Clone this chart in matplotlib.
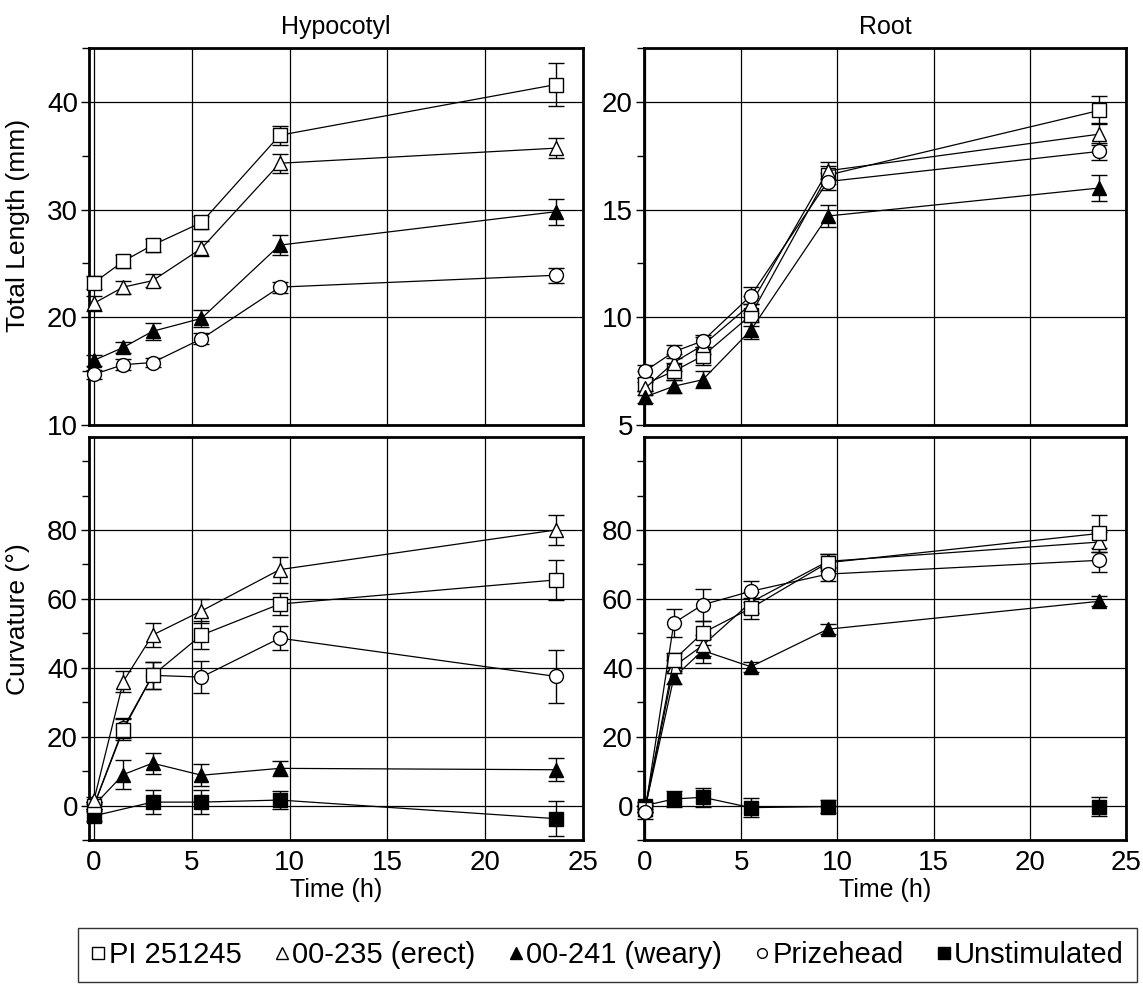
"""Hypocotyl and root gravitropic response: total length and curvature over time."""

import matplotlib

matplotlib.use("Agg")
import matplotlib.pyplot as plt
from matplotlib.lines import Line2D
from matplotlib.ticker import FixedLocator, MultipleLocator

# sampling times (h)
TIME = [0, 1.5, 3, 5.5, 9.5, 23.6]
TIME_UNSTIM_HYP = [0, 3, 5.5, 9.5, 23.6]

SERIES = ["PI 251245", "00-235 (erect)", "00-241 (weary)", "Prizehead", "Unstimulated"]

# hypocotyl total length (mm)
HYP_LEN_PI = [23.2, 25.2, 26.7, 28.8, 36.9, 41.6]
HYP_LEN_PI_ERR = [0.6, 0.6, 0.6, 0.6, 0.9, 2.0]
HYP_LEN_ERECT = [21.3, 22.8, 23.4, 26.4, 34.3, 35.7]
HYP_LEN_ERECT_ERR = [0.7, 0.6, 0.6, 0.7, 0.9, 0.9]
HYP_LEN_WEARY = [16.0, 17.2, 18.7, 19.9, 26.7, 29.8]
HYP_LEN_WEARY_ERR = [0.5, 0.5, 0.8, 0.8, 0.9, 1.2]
HYP_LEN_PRIZE = [14.7, 15.6, 15.8, 18.0, 22.8, 23.9]
HYP_LEN_PRIZE_ERR = [0.4, 0.5, 0.4, 0.5, 0.5, 0.7]

# hypocotyl curvature (degrees)
HYP_CURV_PI = [0.0, 22.0, 37.8, 49.5, 58.5, 65.5]
HYP_CURV_PI_ERR = [1.0, 3.0, 4.0, 4.0, 3.2, 5.7]
HYP_CURV_ERECT = [1.5, 36.0, 49.5, 56.5, 68.5, 80.0]
HYP_CURV_ERECT_ERR = [1.0, 3.0, 3.5, 3.5, 3.8, 4.4]
HYP_CURV_WEARY = [0.0, 9.0, 12.3, 8.8, 10.8, 10.4]
HYP_CURV_WEARY_ERR = [1.0, 4.3, 3.0, 3.2, 2.2, 3.4]
HYP_CURV_PRIZE = [0.0, 22.5, 37.8, 37.3, 48.6, 37.5]
HYP_CURV_PRIZE_ERR = [1.0, 3.0, 3.9, 4.6, 3.4, 7.6]
HYP_CURV_UNSTIM = [-3.0, 1.0, 1.0, 1.6, -3.8]
HYP_CURV_UNSTIM_ERR = [1.5, 3.4, 3.4, 2.5, 5.0]

# root total length (mm)
ROOT_LEN_PI = [6.9, 7.5, 8.2, 10.1, 16.6, 19.6]
ROOT_LEN_PI_ERR = [0.3, 0.4, 0.4, 0.5, 0.4, 0.65]
ROOT_LEN_ERECT = [6.7, 7.9, 8.7, 10.6, 16.8, 18.5]
ROOT_LEN_ERECT_ERR = [0.3, 0.4, 0.4, 0.4, 0.4, 0.5]
ROOT_LEN_WEARY = [6.3, 6.8, 7.1, 9.4, 14.7, 16.0]
ROOT_LEN_WEARY_ERR = [0.3, 0.3, 0.4, 0.4, 0.5, 0.6]
ROOT_LEN_PRIZE = [7.5, 8.4, 8.9, 11.0, 16.3, 17.7]
ROOT_LEN_PRIZE_ERR = [0.3, 0.3, 0.3, 0.4, 0.4, 0.4]

# root curvature (degrees)
ROOT_CURV_PI = [-1.0, 42.3, 50.1, 57.3, 70.5, 79.0]
ROOT_CURV_PI_ERR = [1.0, 2.0, 3.5, 3.0, 2.5, 5.5]
ROOT_CURV_ERECT = [-1.0, 40.4, 46.5, 59.0, 70.9, 76.5]
ROOT_CURV_ERECT_ERR = [1.0, 2.0, 3.0, 3.0, 2.0, 3.0]
ROOT_CURV_WEARY = [-1.0, 37.2, 45.0, 40.3, 51.2, 59.3]
ROOT_CURV_WEARY_ERR = [1.0, 2.0, 3.5, 1.5, 1.5, 1.5]
ROOT_CURV_PRIZE = [-1.8, 53.0, 58.3, 62.2, 67.2, 71.2]
ROOT_CURV_PRIZE_ERR = [2.0, 4.0, 4.7, 3.0, 2.0, 3.5]
ROOT_CURV_UNSTIM = [0.0, 1.9, 2.4, -0.6, -0.3, -0.3]
ROOT_CURV_UNSTIM_ERR = [1.0, 2.3, 2.8, 2.8, 2.0, 2.8]

# marker style per series: (marker, face colour)
STYLES = {
    "PI 251245": ("s", "white"),
    "00-235 (erect)": ("^", "white"),
    "00-241 (weary)": ("^", "black"),
    "Prizehead": ("o", "white"),
    "Unstimulated": ("s", "black"),
}

plt.rcParams["font.family"] = ["Liberation Sans", "DejaVu Sans"]


def draw_series(ax, t, y, err, name, zorder=3):
    marker, face = STYLES[name]
    size = {"o": 10, "s": 9.5, "^": 10.5}[marker]
    eb = ax.errorbar(
        t, y, yerr=err, color="black", lw=0.9, marker=marker, ms=size,
        mfc=face, mec="black", mew=1.0, ecolor="black", elinewidth=1.0,
        capsize=6, capthick=1.0, zorder=zorder,
    )
    for artist in eb.get_children():
        artist.set_clip_on(False)


def style_axes(ax, ylim, major, minor, xlim, show_x):
    ax.set_xlim(*xlim)
    ax.set_ylim(*ylim)
    ax.xaxis.set_major_locator(MultipleLocator(5))
    ax.yaxis.set_major_locator(FixedLocator(major))
    ax.yaxis.set_minor_locator(FixedLocator(minor))
    ax.grid(True, which="major", color="black", lw=0.9)
    ax.set_axisbelow(True)
    ax.tick_params(axis="y", which="major", direction="out", length=6, width=1, labelsize=20, pad=2)
    ax.tick_params(axis="y", which="minor", direction="out", length=5, width=1)
    ax.tick_params(axis="x", length=0, labelsize=20, pad=7, labelbottom=show_x)
    for spine in ax.spines.values():
        spine.set_linewidth(2.0)


def main() -> int:
    fig = plt.figure(figsize=(11.43, 9.84), dpi=100)
    W, H = 1143.0, 984.0

    def box(x0, y0, x1, y1):
        return [x0 / W, 1 - y1 / H, (x1 - x0) / W, (y1 - y0) / H]

    ax_hl = fig.add_axes(box(89, 48, 583, 425))
    ax_rl = fig.add_axes(box(644, 48, 1126, 425))
    ax_hc = fig.add_axes(box(89, 437, 583, 840))
    ax_rc = fig.add_axes(box(644, 437, 1126, 840))

    curv_major = [0, 20, 40, 60, 80]
    curv_minor = [-10, 10, 30, 50, 70, 90, 100]
    style_axes(ax_hl, (10, 45), [10, 20, 30, 40], [15, 25, 35, 45], (-0.25, 25), False)
    style_axes(ax_rl, (5, 22.5), [5, 10, 15, 20], [7.5, 12.5, 17.5, 22.5], (-0.05, 25), False)
    style_axes(ax_hc, (-10, 107), curv_major, curv_minor, (-0.25, 25), True)
    style_axes(ax_rc, (-10, 107), curv_major, curv_minor, (-0.05, 25), True)

    # hypocotyl length
    draw_series(ax_hl, TIME, HYP_LEN_PI, HYP_LEN_PI_ERR, "PI 251245")
    draw_series(ax_hl, TIME, HYP_LEN_ERECT, HYP_LEN_ERECT_ERR, "00-235 (erect)")
    draw_series(ax_hl, TIME, HYP_LEN_WEARY, HYP_LEN_WEARY_ERR, "00-241 (weary)")
    draw_series(ax_hl, TIME, HYP_LEN_PRIZE, HYP_LEN_PRIZE_ERR, "Prizehead")

    # root length
    draw_series(ax_rl, TIME, ROOT_LEN_PI, ROOT_LEN_PI_ERR, "PI 251245")
    draw_series(ax_rl, TIME, ROOT_LEN_ERECT, ROOT_LEN_ERECT_ERR, "00-235 (erect)")
    draw_series(ax_rl, TIME, ROOT_LEN_WEARY, ROOT_LEN_WEARY_ERR, "00-241 (weary)")
    draw_series(ax_rl, TIME, ROOT_LEN_PRIZE, ROOT_LEN_PRIZE_ERR, "Prizehead")

    # hypocotyl curvature
    draw_series(ax_hc, TIME_UNSTIM_HYP, HYP_CURV_UNSTIM, HYP_CURV_UNSTIM_ERR, "Unstimulated")
    draw_series(ax_hc, TIME, HYP_CURV_WEARY, HYP_CURV_WEARY_ERR, "00-241 (weary)")
    draw_series(ax_hc, TIME, HYP_CURV_PRIZE, HYP_CURV_PRIZE_ERR, "Prizehead")
    draw_series(ax_hc, TIME, HYP_CURV_PI, HYP_CURV_PI_ERR, "PI 251245")
    draw_series(ax_hc, TIME, HYP_CURV_ERECT, HYP_CURV_ERECT_ERR, "00-235 (erect)")

    # root curvature
    draw_series(ax_rc, TIME, ROOT_CURV_UNSTIM, ROOT_CURV_UNSTIM_ERR, "Unstimulated")
    draw_series(ax_rc, TIME, ROOT_CURV_WEARY, ROOT_CURV_WEARY_ERR, "00-241 (weary)")
    draw_series(ax_rc, TIME, ROOT_CURV_ERECT, ROOT_CURV_ERECT_ERR, "00-235 (erect)")
    draw_series(ax_rc, TIME, ROOT_CURV_PI, ROOT_CURV_PI_ERR, "PI 251245")
    draw_series(ax_rc, TIME, ROOT_CURV_PRIZE, ROOT_CURV_PRIZE_ERR, "Prizehead")

    ax_hl.set_title("Hypocotyl", fontsize=18, pad=10)
    ax_rl.set_title("Root", fontsize=18, pad=10)
    ax_hl.set_ylabel("Total Length (mm)", fontsize=19)
    ax_hc.set_ylabel("Curvature (\u00b0)", fontsize=19)
    ax_hl.yaxis.set_label_coords(-0.12, 0.53)
    ax_hc.yaxis.set_label_coords(-0.12, 0.548)
    ax_hc.set_xlabel("Time (h)", fontsize=18, labelpad=2)
    ax_rc.set_xlabel("Time (h)", fontsize=18, labelpad=2)

    handles = []
    for name in SERIES:
        marker, face = STYLES[name]
        handles.append(Line2D([], [], ls="none", marker=marker, ms=8 if marker != "o" else 7,
                              mfc=face, mec="black", mew=1.0))
    leg = fig.legend(
        handles, SERIES, loc="lower left", ncol=5, mode="expand",
        bbox_to_anchor=(78 / W, 2 / H, 1059 / W, 56 / H), borderaxespad=0,
        handlelength=0.5, handletextpad=0.1, columnspacing=0.5,
        frameon=True, fancybox=False, edgecolor="black", borderpad=0.45,
        prop={"size": 21},
    )
    leg.get_frame().set_linewidth(1.0)

    fig.savefig("out.png", dpi=100)
    plt.close(fig)
    return 0


if __name__ == "__main__":
    raise SystemExit(main())
